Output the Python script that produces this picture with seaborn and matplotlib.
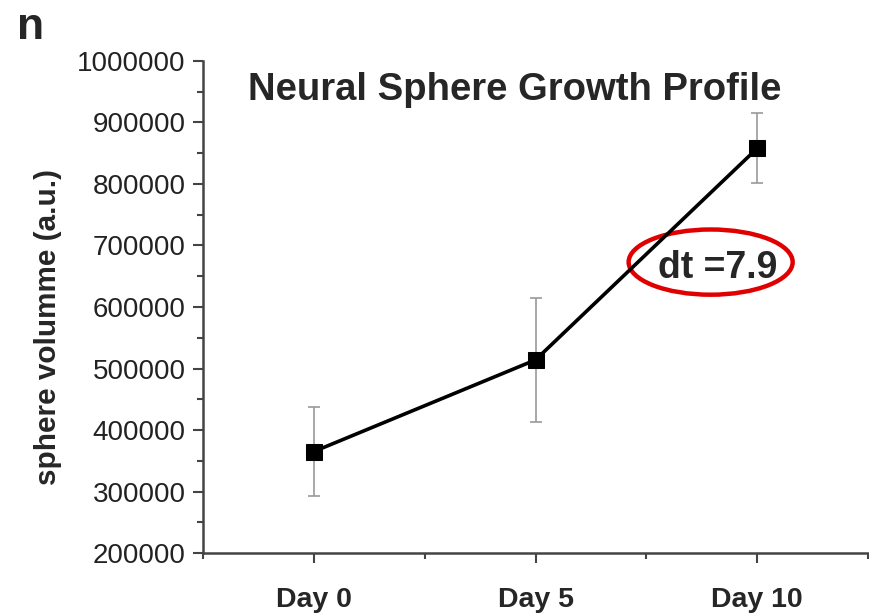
import numpy as np
import pandas as pd
import matplotlib
matplotlib.use("Agg")
import matplotlib.pyplot as plt
import seaborn as sns
from matplotlib.patches import Ellipse
from matplotlib.ticker import MultipleLocator

days = [0, 5, 10]
day_labels = ["Day 0", "Day 5", "Day 10"]
volume = [365000, 514000, 858000]
volume_err = [73000, 101000, 57000]

df = pd.DataFrame({"day": days, "volume": volume, "err": volume_err})

sns.set_style("ticks")
plt.rcParams["font.family"] = ["Liberation Sans", "DejaVu Sans"]

fig = plt.figure(figsize=(8.69, 6.14), dpi=100)
ax = fig.add_axes([0.2336, 0.0993, 0.7653, 0.8014])

ax.errorbar(df["day"], df["volume"], yerr=df["err"], fmt="none",
            ecolor="#9a9a9a", elinewidth=1.2, capsize=4, capthick=1.2, zorder=1)
sns.lineplot(data=df, x="day", y="volume", ax=ax, color="black", linewidth=2.6,
             marker="s", markersize=11.5, markeredgecolor="black", zorder=3)

ax.set_xlim(-2.5, 12.5)
ax.set_ylim(200000, 1000000)
ax.set_xticks(days)
ax.set_xticklabels(day_labels, fontsize=20.5, fontweight="bold")
ax.xaxis.set_minor_locator(MultipleLocator(2.5))
ax.yaxis.set_major_locator(MultipleLocator(100000))
ax.yaxis.set_minor_locator(MultipleLocator(50000))
ax.ticklabel_format(axis="y", style="plain")
ax.tick_params(axis="y", labelsize=20, labelcolor="#222222", pad=5.5)
ax.tick_params(which="major", direction="out", length=7, width=1.5, color="#444444")
ax.tick_params(which="minor", direction="out", length=4.5, width=1.5, color="#444444")
ax.tick_params(axis="x", which="major", pad=17.5)

sns.despine(ax=ax)
for s in ["left", "bottom"]:
    ax.spines[s].set_linewidth(1.8)
    ax.spines[s].set_color("#444444")

ax.set_xlabel("")
ax.set_ylabel("sphere volumme (a.u.)", fontsize=21.4, fontweight="bold")
ax.yaxis.set_label_coords(-0.212, 0.459)

ax.text(0.469, 0.941, "Neural Sphere Growth Profile", transform=ax.transAxes,
        ha="center", va="center", fontsize=27.5, fontweight="bold")

ax.text(9.1, 664000, "dt =7.9", ha="center", va="center", fontsize=27, fontweight="bold")
ax.add_patch(Ellipse((8.95, 673000), 3.7, 106000, fill=False, edgecolor="#e00000", linewidth=3.2))

fig.text(0.02, 0.955, "n", fontsize=32, fontweight="bold", ha="left", va="center")

fig.savefig("out.png", dpi=100)
